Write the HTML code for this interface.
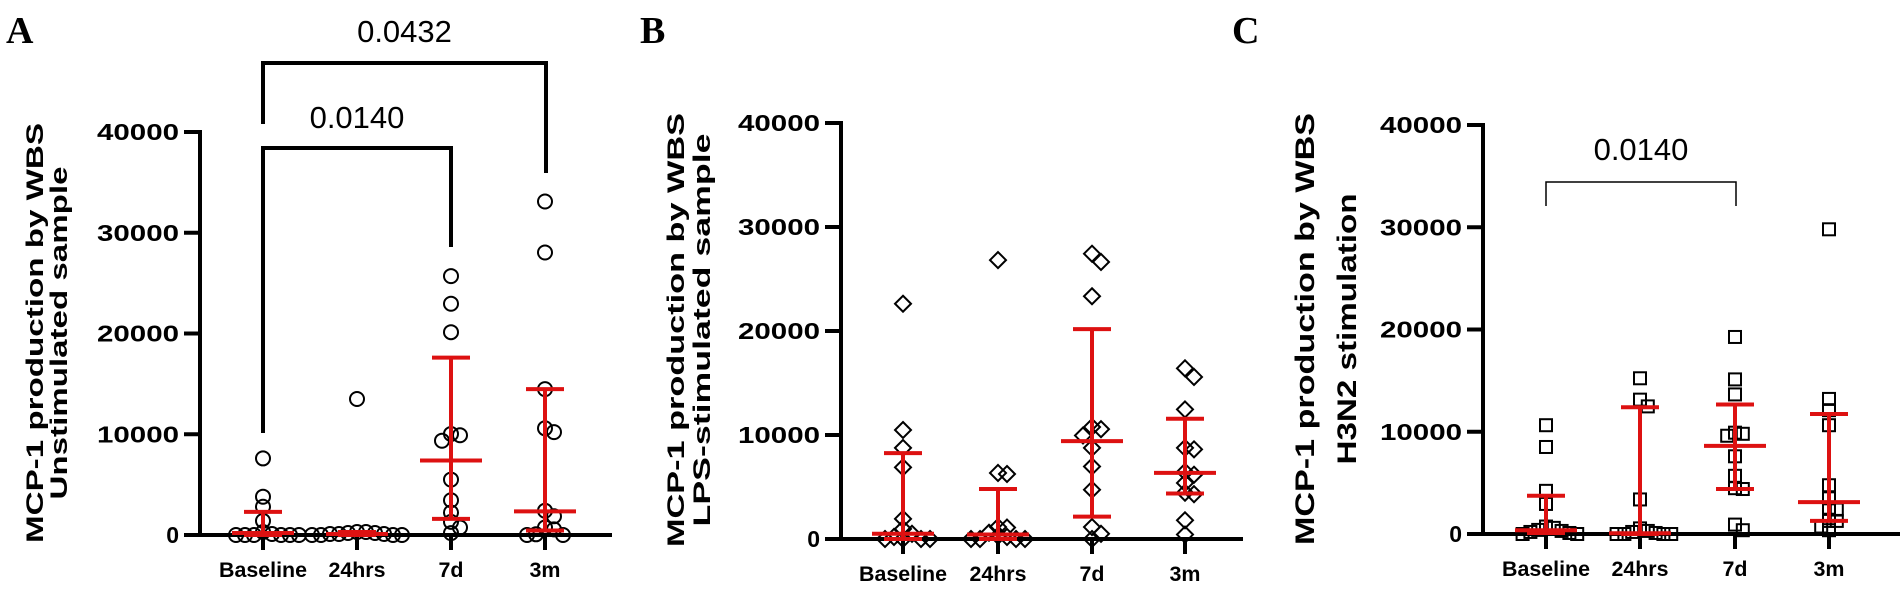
<!DOCTYPE html>
<html><head><meta charset="utf-8"><style>
html,body{margin:0;padding:0;background:#fff;}
svg{display:block;font-family:"Liberation Sans",Arial,sans-serif;}
</style></head><body>
<svg id="chart" width="1902" height="590" viewBox="0 0 1902 590" xmlns="http://www.w3.org/2000/svg"></svg>
<script>
const categories = ["Baseline","24hrs","7d","3m"];
const yTicks = [0,10000,20000,30000,40000];
const yTickLabels = ["0","10000","20000","30000","40000"];

const aBaseline = [7600,3800,2800,1400,300,100,0,0,0,0,0,0];
const a24hrs = [13500,300,300,200,200,100,100,100,0,0,0,0];
const a7d = [25700,22950,20130,9900,10030,9360,5500,3450,2230,1300,740,190];
const a3m = [33100,28040,14480,10210,10590,2410,1860,740,560,70,0,0];
const aMedian = [200,100,7400,2340];
const aLower = [0,0,1600,450];
const aUpper = [2300,300,17600,14480];

const bBaseline = [22620,10480,8760,6890,1940,970,500,200,0,0,0,0];
const b24hrs = [26820,6250,6350,1150,1100,600,300,200,0,0,0,0];
const b7d = [27430,26640,23340,10560,10770,9950,8760,6970,4740,1150,500,0];
const b3m = [16410,15580,12460,8620,8760,6460,6180,5390,4450,4310,1800,430];
const bMedian = [500,430,9410,6360];
const bLower = [0,0,2150,4380];
const bUpper = [8260,4810,20180,11560];

const cBaseline = [10640,8510,4220,2940,730,600,400,300,200,100,0,0];
const c24hrs = [15230,13140,12480,3380,550,300,200,100,0,0,0,0];
const c7d = [19270,15120,13650,9800,9910,9610,7600,5690,4400,4480,920,370];
const c3m = [29800,13210,12110,10640,4770,3490,2570,2390,1280,1280,730,370];
const cMedian = [370,70,8620,3120];
const cLower = [100,0,4400,1280];
const cUpper = [3740,12400,12660,11740];

const NS="http://www.w3.org/2000/svg";
const svg=document.getElementById('chart');
function el(tag,attrs,parent){const e=document.createElementNS(NS,tag);for(const k in attrs)e.setAttribute(k,attrs[k]);(parent||svg).appendChild(e);return e;}
const RED="#dd1111";
const catLen=[88,57,25,31];

const panels=[
 {key:"a",letter:"A",lx:6,ax:200,y0:535,y40:132,cats:[263,357,451,545],end:612,marker:"circle",
  groups:[aBaseline,a24hrs,a7d,a3m],med:aMedian,lo:aLower,hi:aUpper,
  t1x:43,t2x:67,tcy:333,l1:420,l2:333,fs:24,line2:"Unstimulated sample"},
 {key:"b",letter:"B",lx:640,ax:841,y0:539,y40:123,cats:[903,998,1092,1185],end:1243,marker:"diamond",
  groups:[bBaseline,b24hrs,b7d,b3m],med:bMedian,lo:bLower,hi:bUpper,
  t1x:684,t2x:710,tcy:330,l1:434,l2:393,fs:24,line2:"LPS-stimulated sample"},
 {key:"c",letter:"C",lx:1232,ax:1483,y0:534,y40:125,cats:[1546,1640,1735,1829],end:1900,marker:"square",
  groups:[cBaseline,c24hrs,c7d,c3m],med:cMedian,lo:cLower,hi:cUpper,
  t1x:1314,t2x:1356,tcy:329,l1:432,l2:271,fs:27,line2:"H3N2 stimulation"}
];

panels.forEach(p=>{
  const g=el('g',{});
  
  
  const yS=v=>p.y0-(v/40000)*(p.y0-p.y40);
  const L=el('text',{x:p.lx,y:43,'font-family':'"Liberation Serif",serif','font-weight':'bold','font-size':38,fill:'#000'},g);
  L.textContent=p.letter;
  
  
  const t1=el('text',{x:0,y:0,transform:`translate(${p.t1x},${p.tcy}) rotate(-90)`,'text-anchor':'middle','font-weight':'bold','font-size':p.fs,fill:'#000',textLength:p.l1,lengthAdjust:'spacingAndGlyphs'},g);
  t1.textContent="MCP-1 production by WBS";
  
  
  const t2=el('text',{x:0,y:0,transform:`translate(${p.t2x},${p.tcy}) rotate(-90)`,'text-anchor':'middle','font-weight':'bold','font-size':p.fs,fill:'#000',textLength:p.l2,lengthAdjust:'spacingAndGlyphs'},g);
  t2.textContent=p.line2;
  
  
  const ya=el('line',{x1:p.ax,y1:p.y40-2,x2:p.ax,y2:p.y0+2,stroke:'#000','stroke-width':4},g);
  
  
  const xa=el('line',{x1:p.ax-14,y1:p.y0,x2:p.end,y2:p.y0,stroke:'#000','stroke-width':4},g);
  
  
  yTicks.forEach((v,i)=>{
    const y=yS(v);
    el('line',{x1:p.ax-16,y1:y,x2:p.ax,y2:y,stroke:'#000','stroke-width':4},g);
    const attrs={x:p.ax-21,y:y+8,'text-anchor':'end','font-weight':'bold','font-size':23,fill:'#000'};
    if(i>0){attrs.textLength=82;attrs.lengthAdjust='spacingAndGlyphs';}
    const t=el('text',attrs,g);
    t.textContent=yTickLabels[i];
    
    
  });
  categories.forEach((c,i)=>{
    const x=p.cats[i];
    el('line',{x1:x,y1:p.y0,x2:x,y2:p.y0+15,stroke:'#000','stroke-width':4},g);
    const t=el('text',{x:x,y:p.y0+42,'text-anchor':'middle','font-weight':'bold','font-size':21,fill:'#000',textLength:catLen[i],lengthAdjust:'spacingAndGlyphs'},g);
    t.textContent=c;
    
    
  });
  const diam = p.marker==="square"?13:15;
  const step = diam*0.6;
  p.groups.forEach((vals,gi)=>{
    const cx=p.cats[gi];
    const placed=[];
    const sorted=vals.slice().sort((a,b)=>b-a);
    sorted.forEach(v=>{
      const y=yS(v);
      let off=0;
      for(let k=0;k<20;k++){
        const cand = k===0?0:(k%2===1?1:-1)*Math.ceil(k/2)*step;
        const ok=placed.every(q=>Math.hypot(q[0]-(cx+cand),q[1]-y)>=step*0.98);
        if(ok){off=cand;break;}
      }
      const x=cx+off;placed.push([x,y]);
      let m;
      if(p.marker==="circle") m=el('circle',{cx:x,cy:y,r:7,fill:'none',stroke:'#000','stroke-width':2},g);
      else if(p.marker==="diamond") m=el('path',{d:`M${x},${y-8} L${x+8},${y} L${x},${y+8} L${x-8},${y} Z`,fill:'none',stroke:'#000','stroke-width':2},g);
      else m=el('rect',{x:x-6,y:y-6,width:12,height:12,fill:'none',stroke:'#000','stroke-width':2},g);
      
      
    });
    const eb=el('g',{stroke:RED,'stroke-width':4},g);
    
    
    el('line',{x1:cx,y1:yS(p.lo[gi]),x2:cx,y2:yS(p.hi[gi])},eb);
    el('line',{x1:cx-19,y1:yS(p.hi[gi]),x2:cx+19,y2:yS(p.hi[gi])},eb);
    el('line',{x1:cx-19,y1:yS(p.lo[gi]),x2:cx+19,y2:yS(p.lo[gi])},eb);
    el('line',{x1:cx-31,y1:yS(p.med[gi]),x2:cx+31,y2:yS(p.med[gi])},eb);
  });
});

function bracket(x1,x2,top,d1,d2,w,label,ty,fs,name){
  const g=el('g',{});
  
  
  el('path',{d:`M${x1},${d1} L${x1},${top} L${x2},${top} L${x2},${d2}`,fill:'none',stroke:'#000','stroke-width':w},g);
  const t=el('text',{x:(x1+x2)/2,y:ty,'text-anchor':'middle','font-size':fs,fill:'#000'},g);
  t.textContent=label;
}
bracket(263,546,63,124,173,4,"0.0432",42,31,"bracket-a-baseline-3m");
bracket(263,451,148,433,247,4,"0.0140",128,31,"bracket-a-baseline-7d");
bracket(1546,1736,182,206,206,1.5,"0.0140",160,31,"bracket-c-baseline-7d");
</script>
</body></html>
